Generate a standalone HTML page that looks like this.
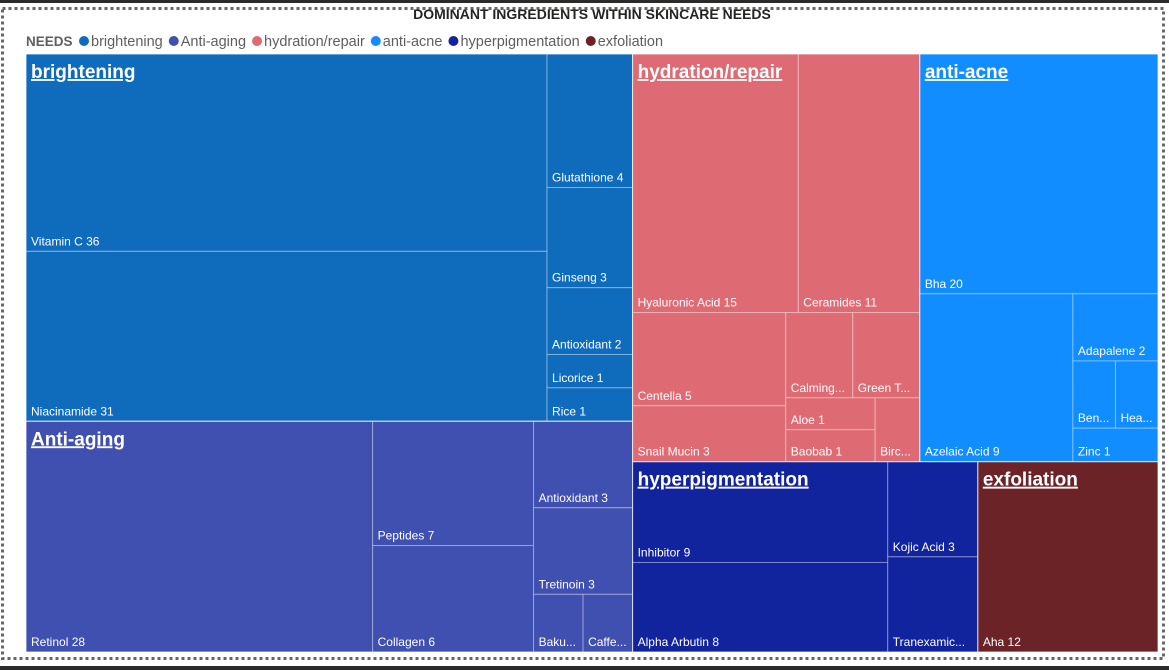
<!DOCTYPE html>
<html><head><meta charset="utf-8">
<style>
html,body{margin:0;padding:0;background:#fff;width:1169px;height:670px;overflow:hidden;font-family:"Segoe UI","Liberation Sans",sans-serif;}
</style></head>
<body>
<svg id="chart" width="1169" height="670" xmlns="http://www.w3.org/2000/svg">
  <rect x="0" y="0" width="1169" height="3" fill="#2b2b2b"/>
  <rect x="0" y="666" width="1169" height="4" fill="#2b2b2b"/>
  <rect x="2.5" y="8.5" width="1161" height="650" fill="none" stroke="#666" stroke-width="3" stroke-dasharray="3,3"/>
  <text x="592" y="19" text-anchor="middle" font-size="14" font-weight="bold" fill="#252423" font-family="Liberation Sans, sans-serif">DOMINANT INGREDIENTS WITHIN SKINCARE NEEDS</text>
  <g id="legend"></g>
  <g id="tm"></g>
</svg>
<script>
const groupNames = ["brightening","Anti-aging","hydration/repair","anti-acne","hyperpigmentation","exfoliation"];
const groupColors = ["#0F6CBD","#4050B0","#DE6B74","#118DFF","#12239E","#6B2328"];
const brighteningItems = ["Vitamin C","Niacinamide","Glutathione","Ginseng","Antioxidant","Licorice","Rice"];
const brighteningValues = [36,31,4,3,2,1,1];
const antiAgingItems = ["Retinol","Peptides","Collagen","Antioxidant","Tretinoin","Bakuchiol","Caffeine"];
const antiAgingValues = [28,7,6,3,3,1,1];
const hydrationItems = ["Hyaluronic Acid","Ceramides","Centella","Snail Mucin","Calming Complex","Green Tea","Aloe","Baobab","Birch Sap"];
const hydrationValues = [15,11,5,3,2,2,1,1,1];
const acneItems = ["Bha","Azelaic Acid","Adapalene","Benzoyl Peroxide","Heartleaf","Zinc"];
const acneValues = [20,9,2,1,1,1];
const hyperItems = ["Inhibitor","Alpha Arbutin","Kojic Acid","Tranexamic Acid"];
const hyperValues = [9,8,3,3];
const exfoItems = ["Aha"];
const exfoValues = [12];

const groupItems=[brighteningItems,antiAgingItems,hydrationItems,acneItems,hyperItems,exfoItems];
const groupValues=[brighteningValues,antiAgingValues,hydrationValues,acneValues,hyperValues,exfoValues];
const X0=26,Y0=54,X1=1158,Y1=652;
const NS="http://www.w3.org/2000/svg";
const PHI=(1+Math.sqrt(5))/2;

function squarify(nodes,x0,y0,x1,y1){
  let value=nodes.reduce((a,n)=>a+n.value,0);
  let i0=0,i1=0,n=nodes.length;
  while(i0<n){
    const dx=x1-x0,dy=y1-y0;
    let sumValue=nodes[i1++].value,minValue=sumValue,maxValue=sumValue;
    const alpha=Math.max(dy/dx,dx/dy)/(value*PHI);
    let beta=sumValue*sumValue*alpha;
    let minRatio=Math.max(maxValue/beta,beta/minValue);
    for(;i1<n;++i1){
      const nv=nodes[i1].value;sumValue+=nv;
      const mn=Math.min(minValue,nv),mx=Math.max(maxValue,nv);
      beta=sumValue*sumValue*alpha;
      const nr=Math.max(mx/beta,beta/mn);
      if(nr>minRatio){sumValue-=nv;break;}
      minRatio=nr;minValue=mn;maxValue=mx;
    }
    const row=nodes.slice(i0,i1);
    if(dx<dy){
      const ny=y0+dy*sumValue/value;let x=x0;
      row.forEach(c=>{const w=dx*c.value/sumValue;c.x0=x;c.x1=x+w;c.y0=y0;c.y1=ny;x+=w;});
      y0=ny;
    }else{
      const nx=x0+dx*sumValue/value;let y=y0;
      row.forEach(c=>{const h=dy*c.value/sumValue;c.y0=y;c.y1=y+h;c.x0=x0;c.x1=nx;y+=h;});
      x0=nx;
    }
    value-=sumValue;i0=i1;
  }
}
const ctx=document.createElement('canvas').getContext('2d');
ctx.font='12px "Segoe UI","Liberation Sans",sans-serif';
function fit(t,w){
  if(ctx.measureText(t).width<=w) return t;
  let s=t;while(s.length>1&&ctx.measureText(s+'...').width>w) s=s.slice(0,-1);
  return s.trimEnd()+'...';
}
const groups=groupNames.map((g,i)=>({name:g,color:groupColors[i],value:groupValues[i].reduce((a,b)=>a+b,0),
  children:groupItems[i].map((it,j)=>({name:it,value:groupValues[i][j]}))}));
squarify(groups,X0,Y0,X1,Y1);
const tm=document.getElementById('tm');
groups.forEach(g=>{
  squarify(g.children,g.x0,g.y0,g.x1,g.y1);
  g.children.forEach(c=>{
    const r=document.createElementNS(NS,'rect');
    
    
    r.setAttribute('x',c.x0);r.setAttribute('y',c.y0);
    r.setAttribute('width',c.x1-c.x0);r.setAttribute('height',c.y1-c.y0);
    r.setAttribute('fill',g.color);r.setAttribute('stroke','rgba(255,255,255,0.35)');r.setAttribute('stroke-width','1');
    tm.appendChild(r);
    const t=document.createElementNS(NS,'text');
    
    
    t.setAttribute('x',c.x0+5);t.setAttribute('y',c.y1-6);
    t.setAttribute('fill','#fff');t.setAttribute('font-size','12');
    t.textContent=fit(c.name+' '+c.value,c.x1-c.x0-10);
    tm.appendChild(t);
  });
  const b=document.createElementNS(NS,'rect');
  
  
  b.setAttribute('x',g.x0);b.setAttribute('y',g.y0);b.setAttribute('width',g.x1-g.x0);b.setAttribute('height',g.y1-g.y0);
  b.setAttribute('fill','none');b.setAttribute('stroke','rgba(255,255,255,0.6)');b.setAttribute('stroke-width','1');
  tm.appendChild(b);
  const t=document.createElementNS(NS,'text');
  
  
  t.setAttribute('x',g.x0+5);t.setAttribute('y',g.y0+24);
  t.setAttribute('fill','#fff');t.setAttribute('font-size','19');t.setAttribute('font-weight','bold');t.setAttribute('text-decoration','underline');
  t.textContent=g.name;
  tm.appendChild(t);
});
const lg=document.getElementById('legend');
const lt=document.createElementNS(NS,'text');


lt.setAttribute('x',26);lt.setAttribute('y',46);lt.setAttribute('font-size','13.5');lt.setAttribute('font-weight','bold');lt.setAttribute('fill','#605E5C');
lt.textContent='NEEDS';lg.appendChild(lt);
ctx.font='14.5px "Segoe UI","Liberation Sans",sans-serif';
let lx=79;
groupNames.forEach((g,i)=>{
  const c=document.createElementNS(NS,'circle');
  
  
  c.setAttribute('cx',lx+5);c.setAttribute('cy',41);c.setAttribute('r',5);c.setAttribute('fill',groupColors[i]);
  lg.appendChild(c);
  const t=document.createElementNS(NS,'text');
  
  
  t.setAttribute('x',lx+12);t.setAttribute('y',46);t.setAttribute('font-size','14.5');t.setAttribute('fill','#605E5C');
  t.textContent=g;lg.appendChild(t);
  lx+=12+ctx.measureText(g).width+6;
});
</script>
</body></html>
